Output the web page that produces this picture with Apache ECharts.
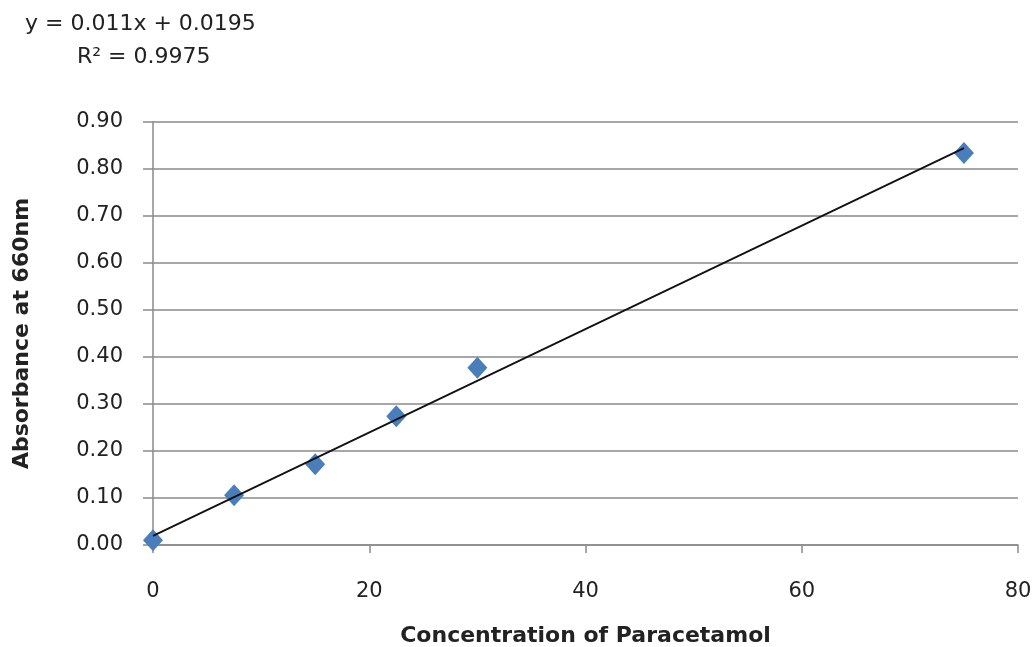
<!DOCTYPE html>
<html>
<head>
<meta charset="utf-8">
<script src="https://cdn.jsdelivr.net/npm/echarts@6/dist/echarts.min.js"></script>
<style>html,body{margin:0;padding:0;background:#fff;}#c{width:1034px;height:647px;}</style>
</head>
<body>
<div id="c"></div>
<script>
const concentrations = [0, 7.5, 15, 22.5, 30, 75];
const absorbances = [0.01, 0.106, 0.172, 0.274, 0.377, 0.834];
const trendSlope = 0.011;
const trendIntercept = 0.0195;
const trendRange = [0, 75];
const equationText = 'y = 0.011x + 0.0195';
const r2Text = 'R² = 0.9975';

const pts = concentrations.map((x, i) => [x, absorbances[i]]);
const trend = trendRange.map(x => [x, trendSlope * x + trendIntercept]);
const font = "'DejaVu Sans', sans-serif";

const chart = echarts.init(document.getElementById('c'));
chart.setOption({
  animation: false,
  backgroundColor: '#fff',
  grid: { left: 153, right: 16, top: 122, bottom: 102, containLabel: false, outerBoundsMode: 'none' },
  graphic: [
    { type: 'text', left: 25, top: 13, style: { text: equationText, font: "22px " + font, fill: '#222' } },
    { type: 'text', left: 77, top: 46, style: { text: r2Text, font: "22px " + font, fill: '#222' } }
  ],
  xAxis: {
    type: 'value', min: 0, max: 80, interval: 20,
    name: 'Concentration of Paracetamol', nameLocation: 'middle', nameGap: 80,
    nameTextStyle: { fontFamily: font, fontSize: 22, fontWeight: 'bold', color: '#222' },
    axisLine: { show: true, lineStyle: { color: '#8a8a8a', width: 1.5 } },
    axisTick: { show: true, length: 8, lineStyle: { color: '#8a8a8a', width: 1.5 } },
    axisLabel: { fontFamily: font, fontSize: 21, color: '#222', margin: 36 },
    splitLine: { show: false }
  },
  yAxis: {
    type: 'value', min: 0, max: 0.9, interval: 0.1,
    name: 'Absorbance at 660nm', nameLocation: 'middle', nameGap: 120,
    nameTextStyle: { fontFamily: font, fontSize: 22, fontWeight: 'bold', color: '#222' },
    axisLine: { show: true, lineStyle: { color: '#8a8a8a', width: 1.5 } },
    axisTick: { show: true, length: 10, lineStyle: { color: '#8a8a8a', width: 1.5 } },
    axisLabel: { fontFamily: font, fontSize: 21, color: '#222', margin: 30, formatter: v => v.toFixed(2) },
    splitLine: { show: true, lineStyle: { color: '#8a8a8a', width: 1.5 } }
  },
  series: [
    {
      type: 'line', data: trend, symbol: 'none',
      lineStyle: { color: '#111', width: 1.8 }, z: 3
    },
    {
      type: 'scatter', data: pts, symbol: 'diamond', symbolSize: [20, 22],
      itemStyle: { color: '#4A7EBB', opacity: 1 }, z: 2
    }
  ]
});
</script>
</body>
</html>
